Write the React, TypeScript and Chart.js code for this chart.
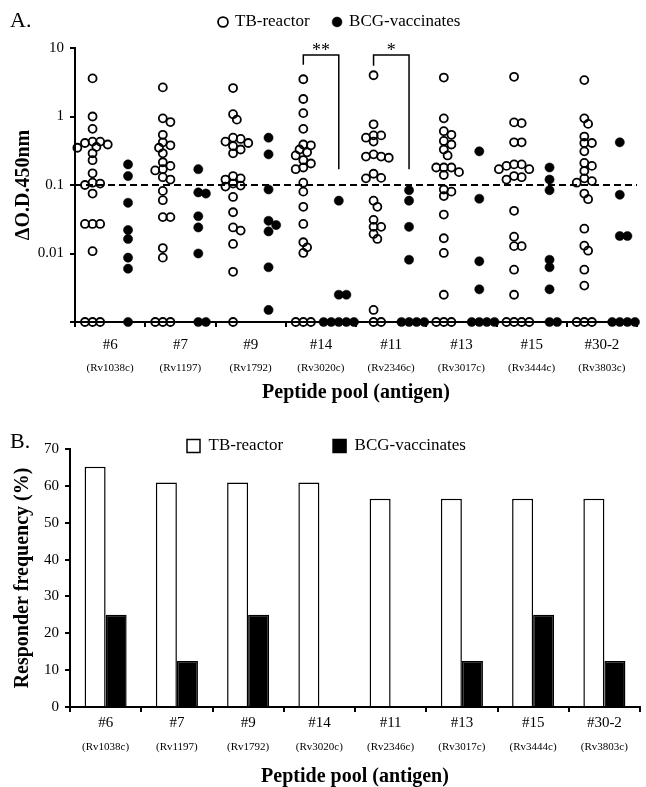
import React, { useEffect, useRef } from 'react';
import { Chart, registerables } from 'chart.js';

Chart.register(...registerables);

const SERIF = '"Liberation Serif", "Times New Roman", serif';

// ---- categories ----
const GROUPS = ['#6', '#7', '#9', '#14', '#11', '#13', '#15', '#30-2'];
const ANTIGENS = ['(Rv1038c)', '(Rv1197)', '(Rv1792)', '(Rv3020c)', '(Rv2346c)', '(Rv3017c)', '(Rv3444c)', '(Rv3803c)'];

// ---- panel A: ΔO.D.450nm per subject (0 = not detected, drawn on the axis) ----
const TB_REACTOR_OD = [
  [3.6, 1.0, 0.66, 0.43, 0.43, 0.41, 0.39, 0.36, 0.35, 0.29, 0.23, 0.148, 0.108, 0.105, 0.1, 0.075, 0.027, 0.027, 0.027, 0.0108, 0, 0, 0],
  [2.66, 0.94, 0.83, 0.54, 0.42, 0.38, 0.35, 0.29, 0.215, 0.19, 0.17, 0.163, 0.13, 0.12, 0.082, 0.06, 0.034, 0.034, 0.012, 0.0087, 0, 0, 0],
  [2.6, 1.08, 0.9, 0.49, 0.47, 0.43, 0.41, 0.37, 0.33, 0.29, 0.135, 0.125, 0.12, 0.105, 0.098, 0.095, 0.067, 0.04, 0.024, 0.0216, 0.0138, 0.0054, 0],
  [3.5, 1.8, 1.12, 0.66, 0.39, 0.38, 0.33, 0.3, 0.27, 0.23, 0.206, 0.18, 0.17, 0.108, 0.08, 0.048, 0.027, 0.0146, 0.0123, 0.0102, 0, 0, 0],
  [4.0, 0.77, 0.53, 0.53, 0.49, 0.43, 0.28, 0.26, 0.26, 0.25, 0.146, 0.127, 0.125, 0.059, 0.048, 0.031, 0.0245, 0.0245, 0.0193, 0.0163, 0.0015, 0, 0],
  [3.7, 0.94, 0.61, 0.54, 0.44, 0.39, 0.33, 0.27, 0.18, 0.18, 0.18, 0.154, 0.14, 0.086, 0.08, 0.069, 0.037, 0.0167, 0.0102, 0.0025, 0, 0, 0],
  [3.8, 0.82, 0.8, 0.42, 0.42, 0.2, 0.2, 0.19, 0.17, 0.17, 0.135, 0.13, 0.12, 0.042, 0.0176, 0.0128, 0.0128, 0.0058, 0.0025, 0, 0, 0, 0],
  [3.4, 0.94, 0.78, 0.51, 0.41, 0.41, 0.31, 0.21, 0.19, 0.16, 0.125, 0.114, 0.108, 0.075, 0.062, 0.023, 0.013, 0.011, 0.0058, 0.0034, 0, 0, 0],
];
const BCG_VACCINATES_OD = [
  [0.2, 0.135, 0.055, 0.022, 0.0163, 0.0087, 0.006, 0],
  [0.17, 0.078, 0.075, 0.035, 0.024, 0.01, 0, 0],
  [0.49, 0.28, 0.086, 0.03, 0.026, 0.021, 0.0063, 0.0015],
  [0.059, 0.0025, 0.0025, 0, 0, 0, 0, 0],
  [0.084, 0.059, 0.0245, 0.0081, 0, 0, 0, 0],
  [0.31, 0.063, 0.0077, 0.003, 0, 0, 0, 0],
  [0.18, 0.12, 0.084, 0.0081, 0.0063, 0.003, 0, 0],
  [0.42, 0.072, 0.018, 0.018, 0, 0, 0, 0],
];
const CUTOFF = 0.1;
const ND_FLOOR = 0.001;
const Y_TICKS_A = [0.001, 0.01, 0.1, 1, 10];
const Y_TICK_LABELS_A = ['', '0.01', '0.1', '1', '10'];
const SIGNIFICANCE = [
  { group: 3, label: '**', top: 7.9, leftEnd: 5.7, rightEnd: 0.17 },
  { group: 4, label: '*', top: 7.9, leftEnd: 5.5, rightEnd: 0.17 },
];

// ---- panel B: responder frequency (%) ----
const TB_FREQ = [65.2, 60.9, 60.9, 60.9, 56.5, 56.5, 56.5, 56.5];
const BCG_FREQ = [25, 12.5, 25, 0, 0, 12.5, 25, 12.5];
const Y_MAX_B = 70;
const Y_STEP_B = 10;

// ---- layout helpers ----
const TB_POS = 0.25;
const BCG_POS = 0.755;
const STEP_PX = 3.8;
const MIN_GAP_PX = 6.2;
const PX_PER_GROUP = 70.3;
const PX_PER_DECADE = 68.5;

function swarm(values: number[], group: number, pos: number) {
  const placed: [number, number][] = [];
  return values.map((raw) => {
    const v = raw > 0 ? raw : ND_FLOOR;
    const py = Math.log10(v) * PX_PER_DECADE;
    let dx = 0;
    for (let k = 0; k < 80; k++) {
      const cand = k === 0 ? 0 : (k % 2 ? 1 : -1) * Math.ceil(k / 2) * STEP_PX;
      if (placed.every(([px, qy]) => Math.hypot(px - cand, qy - py) >= MIN_GAP_PX)) {
        dx = cand;
        break;
      }
    }
    placed.push([dx, py]);
    return { x: group + pos + dx / PX_PER_GROUP, y: v };
  });
}

const placeLegend = (x: number, cy: number, pad: number, halfItem: number) => ({
  id: 'placeLegend',
  afterUpdate(chart: any) {
    const lg = chart.legend;
    if (!lg) return;
    lg.left = x - pad;
    lg.top = cy - pad - halfItem;
    lg.bottom = lg.top + pad + halfItem * 2 + 20;
  },
});

const panelLetter = (text: string, x: number, y: number) => ({
  id: 'panelLetter',
  afterDraw(chart: any) {
    const ctx = chart.ctx;
    ctx.save();
    ctx.fillStyle = '#000';
    ctx.font = `22px ${SERIF}`;
    ctx.textAlign = 'left';
    ctx.textBaseline = 'alphabetic';
    ctx.fillText(text, x, y);
    ctx.restore();
  },
});

const starsPlugin = {
  id: 'stars',
  afterDatasetsDraw(chart: any) {
    const ctx = chart.ctx;
    const xs = chart.scales.x;
    const ys = chart.scales.y;
    ctx.save();
    ctx.fillStyle = '#000';
    ctx.font = `18px ${SERIF}`;
    ctx.textAlign = 'center';
    ctx.textBaseline = 'alphabetic';
    SIGNIFICANCE.forEach((b) => {
      ctx.fillText(b.label, xs.getPixelForValue(b.group + (TB_POS + BCG_POS) / 2), ys.getPixelForValue(b.top) + 1);
    });
    ctx.restore();
  },
};

const axisGrid = { drawOnChartArea: false, drawTicks: true, tickLength: 5, color: '#000', lineWidth: 2 };
const axisBorder = { display: true, color: '#000', width: 2 };

function configA(): any {
  const tbPoints = TB_REACTOR_OD.flatMap((vals, g) => swarm(vals, g, TB_POS));
  const bcgPoints = BCG_VACCINATES_OD.flatMap((vals, g) => swarm(vals, g, BCG_POS));
  return {
    type: 'scatter',
    data: {
      datasets: [
        {
          label: 'TB-reactor', data: tbPoints, xAxisID: 'x', yAxisID: 'y',
          pointStyle: 'circle', pointRadius: 4, pointBorderWidth: 1.8, borderWidth: 1.8,
          pointBackgroundColor: 'rgba(0,0,0,0)', backgroundColor: 'rgba(0,0,0,0)',
          borderColor: '#000', pointBorderColor: '#000', clip: false,
        },
        {
          label: 'BCG-vaccinates', data: bcgPoints, xAxisID: 'x', yAxisID: 'y',
          pointStyle: 'circle', pointRadius: 4.6, pointBorderWidth: 0.5, borderWidth: 0.5,
          pointBackgroundColor: '#000', backgroundColor: '#000',
          borderColor: '#000', pointBorderColor: '#000', clip: false,
        },
        {
          label: 'cutoff', data: [{ x: 0, y: CUTOFF }, { x: GROUPS.length, y: CUTOFF }],
          xAxisID: 'x', yAxisID: 'y', showLine: true, borderDash: [7, 4], borderWidth: 2,
          borderColor: '#000', pointRadius: 0,
        },
        ...SIGNIFICANCE.map((b) => ({
          label: 'sig' + b.group,
          data: [
            { x: b.group + TB_POS, y: b.leftEnd },
            { x: b.group + TB_POS, y: b.top },
            { x: b.group + BCG_POS, y: b.top },
            { x: b.group + BCG_POS, y: b.rightEnd },
          ],
          xAxisID: 'x', yAxisID: 'y', showLine: true, borderWidth: 1.5, borderColor: '#000',
          pointRadius: 0, tension: 0, clip: false,
        })),
      ],
    },
    options: {
      responsive: false,
      animation: false,
      devicePixelRatio: 1,
      events: [],
      layout: { padding: { top: 47, right: 9, left: 0, bottom: 0 } },
      plugins: {
        legend: {
          display: true, position: 'top', align: 'start', maxHeight: 1,
          labels: {
            filter: (item: any) => item.datasetIndex < 2,
            usePointStyle: true, boxWidth: 7, boxHeight: 7, padding: 24,
            font: { size: 17, family: SERIF }, color: '#000',
          },
        },
        tooltip: { enabled: false },
      },
      scales: {
        x: { type: 'linear', min: 0, max: GROUPS.length, display: false },
        y: {
          type: 'logarithmic', min: ND_FLOOR, max: 10,
          afterBuildTicks: (ax: any) => { ax.ticks = Y_TICKS_A.map((v) => ({ value: v })); },
          afterFit: (ax: any) => { ax.width = 75; },
          ticks: {
            callback: (_v: any, i: number) => Y_TICK_LABELS_A[i] ?? '',
            font: { size: 15, family: SERIF }, color: '#000', padding: 6, autoSkip: false,
          },
          grid: axisGrid,
          border: axisBorder,
          title: {
            display: true, text: 'ΔO.D.450nm', color: '#000',
            font: { size: 20, weight: 'bold', family: SERIF }, padding: { top: 12, bottom: 0 },
          },
        },
        xl: {
          type: 'category', axis: 'x', position: 'bottom', labels: GROUPS, offset: true, weight: 1,
          afterFit: (ax: any) => { ax.height = 40; },
          grid: { ...axisGrid, offset: true },
          border: axisBorder,
          ticks: { font: { size: 15, family: SERIF }, color: '#000', padding: 9, autoSkip: false, maxRotation: 0 },
        },
        xs: {
          type: 'category', axis: 'x', position: 'bottom', labels: ANTIGENS, offset: true, weight: 2,
          afterFit: (ax: any) => { ax.height = 58; },
          grid: { display: false, drawTicks: false },
          border: { display: false },
          ticks: { font: { size: 11, family: SERIF }, color: '#000', padding: 0, autoSkip: false, maxRotation: 0 },
          title: {
            display: true, text: 'Peptide pool (antigen)', color: '#000',
            font: { size: 20, weight: 'bold', family: SERIF }, padding: { top: 0, bottom: 15 },
          },
        },
      },
    },
    plugins: [placeLegend(219.5, 22, 24, 8.5), panelLetter('A.', 10, 27), starsPlugin],
  };
}

function configB(): any {
  return {
    type: 'bar',
    data: {
      labels: GROUPS,
      datasets: [
        {
          label: 'TB-reactor', data: TB_FREQ, xAxisID: 'x', yAxisID: 'y',
          backgroundColor: '#fff', borderColor: '#000', borderWidth: 1.5, borderSkipped: 'bottom',
          categoryPercentage: 0.59, barPercentage: 1,
        },
        {
          label: 'BCG-vaccinates', data: BCG_FREQ, xAxisID: 'x', yAxisID: 'y',
          backgroundColor: '#000', borderColor: '#000', borderWidth: 1.5, borderSkipped: 'bottom',
          categoryPercentage: 0.59, barPercentage: 1,
        },
      ],
    },
    options: {
      responsive: false,
      animation: false,
      devicePixelRatio: 1,
      events: [],
      layout: { padding: { top: 28, right: 6, left: 0, bottom: 0 } },
      plugins: {
        legend: {
          display: true, position: 'top', align: 'start', maxHeight: 1,
          labels: { boxWidth: 13, boxHeight: 13, padding: 50, font: { size: 17, family: SERIF }, color: '#000' },
        },
        tooltip: { enabled: false },
      },
      scales: {
        x: {
          type: 'category', position: 'bottom', offset: true, weight: 1,
          afterFit: (ax: any) => { ax.height = 27; },
          grid: { ...axisGrid, offset: true },
          border: axisBorder,
          ticks: { font: { size: 15, family: SERIF }, color: '#000', padding: 2, autoSkip: false, maxRotation: 0 },
        },
        xs: {
          type: 'category', axis: 'x', position: 'bottom', labels: ANTIGENS, offset: true, weight: 2,
          afterFit: (ax: any) => { ax.height = 53; },
          grid: { display: false, drawTicks: false },
          border: { display: false },
          ticks: { font: { size: 11, family: SERIF }, color: '#000', padding: 6.4, autoSkip: false, maxRotation: 0 },
          title: {
            display: true, text: 'Peptide pool (antigen)', color: '#000',
            font: { size: 20, weight: 'bold', family: SERIF, lineHeight: 1 }, padding: { top: 0, bottom: 0 },
          },
        },
        y: {
          type: 'linear', min: 0, max: Y_MAX_B,
          afterFit: (ax: any) => { ax.width = 70; },
          ticks: { stepSize: Y_STEP_B, font: { size: 15, family: SERIF }, color: '#000', padding: 6 },
          grid: axisGrid,
          border: axisBorder,
          title: {
            display: true, text: 'Responder frequency (%)', color: '#000',
            font: { size: 20, weight: 'bold', family: SERIF }, padding: { top: 11, bottom: 0 },
          },
        },
      },
    },
    plugins: [placeLegend(187, 26, 50, 8.5), panelLetter('B.', 10, 28)],
  };
}

export default function App() {
  const refA = useRef<HTMLCanvasElement>(null);
  const refB = useRef<HTMLCanvasElement>(null);
  useEffect(() => {
    Chart.defaults.font.family = SERIF;
    Chart.defaults.color = '#000';
    const a = new Chart(refA.current as HTMLCanvasElement, configA());
    const b = new Chart(refB.current as HTMLCanvasElement, configB());
    return () => {
      a.destroy();
      b.destroy();
    };
  }, []);
  return (
    <div style={{ position: 'absolute', left: 0, top: 0, width: 646, height: 787, background: '#fff' }}>
      <canvas ref={refA} width={646} height={420} style={{ display: 'block', width: 646, height: 420 }} />
      <canvas ref={refB} width={646} height={367} style={{ display: 'block', width: 646, height: 367 }} />
    </div>
  );
}
